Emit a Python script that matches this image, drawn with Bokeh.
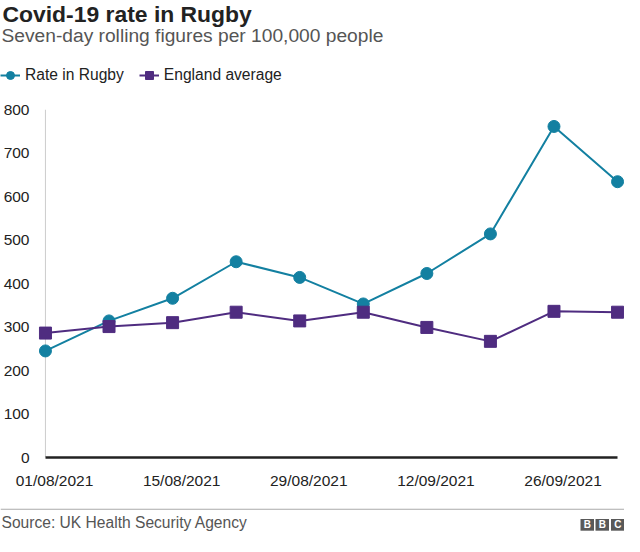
from datetime import datetime, timedelta

from bokeh.plotting import figure
from bokeh.layouts import column
from bokeh.models import (Range1d, FixedTicker, DatetimeTickFormatter, Label, Legend,
                          LegendItem, Span, BoxAnnotation, ColumnDataSource)
from bokeh.embed import file_html
from bokeh.resources import INLINE

# ---------------- data ----------------
week_dates = ["31/07/2021", "07/08/2021", "14/08/2021", "21/08/2021", "28/08/2021",
              "04/09/2021", "11/09/2021", "18/09/2021", "25/09/2021", "02/10/2021"]
rugby_rate = [245, 314, 366, 450, 414, 353, 423, 514, 761, 634]
england_avg = [286, 301, 310, 334, 314, 334, 299, 267, 336, 334]
tick_dates = ["01/08/2021", "15/08/2021", "29/08/2021", "12/09/2021", "26/09/2021"]
y_ticks = [0, 100, 200, 300, 400, 500, 600, 700, 800]
series_names = ["Rate in Rugby", "England average"]

title_text = "Covid-19 rate in Rugby"
subtitle_text = "Seven-day rolling figures per 100,000 people"
source_text = "Source: UK Health Security Agency"

# ---------------- helpers ----------------
EPOCH = datetime(1970, 1, 1)


def to_dt(s):
    return datetime.strptime(s, "%d/%m/%Y")


def ms(d):
    return (d - EPOCH).total_seconds() * 1000.0


dates = [to_dt(d) for d in week_dates]
src = ColumnDataSource(data=dict(date=dates, rugby=rugby_rate, england=england_avg))

TEAL = "#1380A1"
PURPLE = "#4F2C80"
FONT = "Liberation Sans"
W = 624

HEADER_H = 94
MAIN_H = 406
FOOTER_H = 36


def blank_fig(h):
    f = figure(width=W, height=h, x_range=Range1d(0, 1), y_range=Range1d(0, 1),
               x_axis_location=None, y_axis_location=None,
               output_backend="svg", toolbar_location=None, frame_align=False,
               min_border_left=0, min_border_right=0, min_border_top=0, min_border_bottom=0)
    f.outline_line_color = None
    f.xgrid.visible = False
    f.ygrid.visible = False
    f.background_fill_color = "white"
    f.border_fill_color = "white"
    return f


# ---------------- header ----------------
header = blank_fig(HEADER_H)


def hy(y):
    return HEADER_H - y


header.add_layout(Label(x=2, y=hy(13.8), x_units="screen", y_units="screen", text=title_text,
                        text_font=FONT, text_font_size="22.9px", text_font_style="bold",
                        text_color="#222222", text_baseline="middle", text_align="left"))
header.add_layout(Label(x=1, y=hy(35.0), x_units="screen", y_units="screen", text=subtitle_text,
                        text_font=FONT, text_font_size="19.2px",
                        text_color="#555555", text_baseline="middle", text_align="left"))

# legend-only renderers: they use the real data, which lies outside this header's ranges
h1l = header.line("date", "rugby", source=src, line_color=TEAL, line_width=2)
h1s = header.scatter("date", "rugby", source=src, marker="circle", size=12,
                     fill_color=TEAL, line_color=TEAL)
h2l = header.line("date", "england", source=src, line_color=PURPLE, line_width=2)
h2s = header.scatter("date", "england", source=src, marker="square", size=12,
                     fill_color=PURPLE, line_color=PURPLE)

legend = Legend(items=[LegendItem(label=series_names[0], renderers=[h1l, h1s]),
                       LegendItem(label=series_names[1], renderers=[h2l, h2s])],
                orientation="horizontal", location=(0, hy(75.1) - 10),
                glyph_width=20, glyph_height=20, label_height=20, label_standoff=5,
                spacing=15, padding=0, margin=0, border_line_color=None,
                background_fill_alpha=0, label_text_font=FONT,
                label_text_font_size="15.6px", label_text_color="#222222")
header.add_layout(legend, "center")

# ---------------- main chart ----------------
LEFT, RIGHT, TOP, BOTTOM = 34, 0, 15, 43
FRAME_W = W - LEFT - RIGHT

pad_px = 7.0
span_days = (dates[-1] - dates[0]).total_seconds() / 86400.0
px_per_day = (FRAME_W - 2 * pad_px) / span_days
pad_days = pad_px / px_per_day

p = figure(width=W, height=MAIN_H, x_axis_type="datetime",
           x_range=Range1d(dates[0] - timedelta(days=pad_days), dates[-1] + timedelta(days=pad_days)),
           y_range=Range1d(0, 800),
           output_backend="svg", toolbar_location=None, frame_align=False,
           min_border_left=LEFT, min_border_right=RIGHT,
           min_border_top=TOP, min_border_bottom=BOTTOM)
p.outline_line_color = None
p.xgrid.visible = False
p.ygrid.visible = False
p.background_fill_color = "white"
p.border_fill_color = "white"

p.yaxis.ticker = FixedTicker(ticks=y_ticks)
p.yaxis.axis_line_color = None
p.yaxis.major_tick_line_color = None
p.yaxis.minor_tick_line_color = None
p.yaxis.major_label_standoff = 3
p.yaxis.major_label_text_font = FONT
p.yaxis.major_label_text_font_size = "15.5px"
p.yaxis.major_label_text_color = "#222222"

p.xaxis.ticker = FixedTicker(ticks=[ms(to_dt(t)) for t in tick_dates])
fmt = "%d/%m/%Y"
p.xaxis.formatter = DatetimeTickFormatter(microseconds=fmt, milliseconds=fmt, seconds=fmt,
                                          minsec=fmt, minutes=fmt, hourmin=fmt, hours=fmt,
                                          days=fmt, months=fmt, years=fmt)
p.xaxis.bounds = (dates[0], dates[-1])
p.xaxis.axis_line_color = "#222222"
p.xaxis.axis_line_width = 2.5
p.xaxis.major_tick_line_color = None
p.xaxis.minor_tick_line_color = None
p.xaxis.major_label_standoff = 8
p.xaxis.major_label_text_font = FONT
p.xaxis.major_label_text_font_size = "15.5px"
p.xaxis.major_label_text_color = "#222222"

p.add_layout(Span(location=ms(dates[0]), dimension="height", line_color="#cccccc",
                  line_width=1, level="underlay"))

p.line("date", "rugby", source=src, line_color=TEAL, line_width=2)
p.scatter("date", "rugby", source=src, marker="circle", size=12,
          fill_color=TEAL, line_color=TEAL)
p.line("date", "england", source=src, line_color=PURPLE, line_width=2)
p.scatter("date", "england", source=src, marker="square", size=12,
          fill_color=PURPLE, line_color=PURPLE)

# ---------------- footer ----------------
footer = blank_fig(FOOTER_H)


def fy(y):
    return FOOTER_H - y


footer.add_layout(BoxAnnotation(left=0, right=W, top=fy(8.3), bottom=fy(9.3),
                                left_units="screen", right_units="screen",
                                top_units="screen", bottom_units="screen",
                                fill_color="#aaaaaa", fill_alpha=1.0, line_color=None))
footer.add_layout(Label(x=1, y=fy(22.4), x_units="screen", y_units="screen", text=source_text,
                        text_font=FONT, text_font_size="15.6px",
                        text_color="#555555", text_baseline="middle", text_align="left"))

for (l, r), letter in zip([(580, 593.5), (595, 608.5), (610.5, 624)], ["B", "B", "C"]):
    footer.add_layout(BoxAnnotation(left=l, right=r, top=fy(18.5), bottom=fy(30.2),
                                    left_units="screen", right_units="screen",
                                    top_units="screen", bottom_units="screen",
                                    fill_color="#595959", fill_alpha=1.0, line_color=None))
    footer.add_layout(Label(x=(l + r) / 2, y=fy(24.4), x_units="screen", y_units="screen",
                            text=letter, text_font=FONT, text_font_size="10px",
                            text_font_style="bold", text_color="white",
                            text_align="center", text_baseline="middle"))

layout = column(header, p, footer, spacing=0)
open("out.html", "w").write(file_html(layout, INLINE))
